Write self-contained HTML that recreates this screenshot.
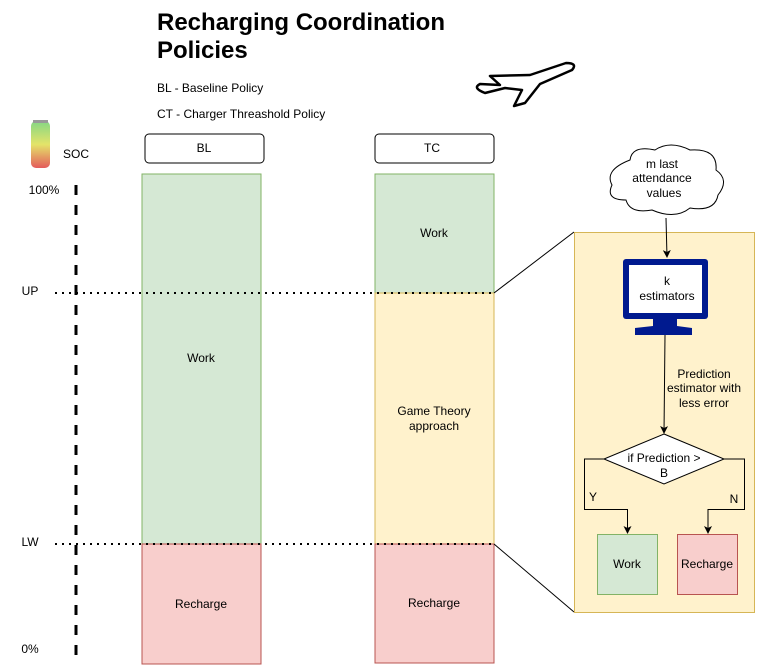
<!DOCTYPE html>
<html><head><style>body{margin:0;background:#fff}svg{display:block;font-family:"Liberation Sans",sans-serif}</style></head><body>
<svg width="764" height="665" xmlns="http://www.w3.org/2000/svg">
<defs>
<marker id="a" markerWidth="8" markerHeight="8" refX="7" refY="4" orient="auto" markerUnits="userSpaceOnUse"><path d="M0,0 L8,4 L0,8 L2,4 Z" fill="#000"/></marker>
<linearGradient id="bat" x1="0" y1="0" x2="0" y2="1"><stop offset="0" stop-color="#6c6"/><stop offset="0.5" stop-color="#dd4"/><stop offset="1" stop-color="#d33"/></linearGradient>
</defs>
<text x="157" y="30" font-size="24" font-weight="bold">Recharging Coordination</text>
<text x="157" y="58" font-size="24" font-weight="bold">Policies</text>
<text x="157" y="92" font-size="12">BL - Baseline Policy</text>
<text x="157" y="118" font-size="12">CT - Charger Threashold Policy</text>
<!-- airplane -->
<path d="M490,76 L530,75 L566,63 Q578,63 572,70 L540,84 L525,103 L514,106 L522,90 L505,88 L485,93 Q472,88 480,84 L500,85 Z" fill="#fff" stroke="#000" stroke-width="2.5" stroke-linejoin="round"/>
<!-- battery -->
<rect x="31" y="121" width="19" height="47" rx="5" fill="url(#bat)" opacity="0.8"/>
<rect x="33" y="120" width="15" height="3" fill="#999"/>
<text x="63" y="158" font-size="12">SOC</text>
<rect x="145" y="134" width="119" height="29" rx="4" fill="#fff" stroke="#000"/>
<text x="204" y="152" font-size="12" text-anchor="middle">BL</text>
<rect x="375" y="134" width="119" height="29" rx="4" fill="#fff" stroke="#000"/>
<text x="432" y="152" font-size="12" text-anchor="middle">TC</text>
<rect x="142" y="174" width="119" height="370" fill="#d5e8d4" stroke="#82b366"/>
<rect x="142" y="544" width="119" height="120" fill="#f8cecc" stroke="#b85450"/>
<text x="201" y="362" font-size="12" text-anchor="middle">Work</text>
<text x="201" y="608" font-size="12" text-anchor="middle">Recharge</text>
<rect x="375" y="174" width="119" height="119" fill="#d5e8d4" stroke="#82b366"/>
<rect x="375" y="293" width="119" height="251" fill="#fff2cc" stroke="#d6b656"/>
<rect x="375" y="544" width="119" height="119" fill="#f8cecc" stroke="#b85450"/>
<text x="434" y="237" font-size="12" text-anchor="middle">Work</text>
<text x="434" y="415" font-size="12" text-anchor="middle">Game Theory</text>
<text x="434" y="430" font-size="12" text-anchor="middle">approach</text>
<text x="434" y="607" font-size="12" text-anchor="middle">Recharge</text>
<line x1="76" y1="185" x2="76" y2="655" stroke="#000" stroke-width="3" stroke-dasharray="10,10"/>
<line x1="55" y1="293" x2="494" y2="293" stroke="#000" stroke-width="2" stroke-dasharray="2,5"/>
<line x1="55" y1="544" x2="494" y2="544" stroke="#000" stroke-width="2" stroke-dasharray="2,5"/>
<text x="44" y="194" font-size="12" text-anchor="middle">100%</text>
<text x="30" y="295" font-size="12" text-anchor="middle">UP</text>
<text x="30" y="546" font-size="12" text-anchor="middle">LW</text>
<text x="30" y="653" font-size="12" text-anchor="middle">0%</text>
<line x1="494" y1="293" x2="574" y2="232" stroke="#000"/>
<line x1="494" y1="544" x2="574" y2="612" stroke="#000"/>
<rect x="574.5" y="232.5" width="180" height="380" fill="#fff2cc" stroke="#d6b656"/>
<!-- cloud -->
<path d="M630,160 Q632,145 655,150 Q670,140 690,150 Q718,148 716,170 Q730,180 718,195 Q715,212 690,208 Q675,220 652,210 Q630,214 626,200 Q605,200 612,185 Q604,170 630,160 Z" fill="#fff" stroke="#000"/>
<text x="662" y="168" font-size="12" text-anchor="middle">m last</text>
<text x="662" y="182" font-size="12" text-anchor="middle">attendance</text>
<text x="664" y="197" font-size="12" text-anchor="middle">values</text>
<line x1="666" y1="218" x2="667" y2="257" stroke="#000" marker-end="url(#a)"/>
<!-- monitor -->
<rect x="623" y="259" width="85" height="60" rx="3" fill="#001a8f"/>
<rect x="629" y="265" width="73" height="48" fill="#fff"/>
<path d="M653,319 L677,319 L677,326 L692,328 L692,335 L635,335 L635,328 L653,326 Z" fill="#001a8f"/>
<text x="667" y="285" font-size="12" text-anchor="middle">k</text>
<text x="667" y="300" font-size="12" text-anchor="middle">estimators</text>
<line x1="665" y1="335" x2="664" y2="433" stroke="#000" marker-end="url(#a)"/>
<text x="704" y="378" font-size="12" text-anchor="middle">Prediction</text>
<text x="704" y="392" font-size="12" text-anchor="middle">estimator with</text>
<text x="704" y="407" font-size="12" text-anchor="middle">less error</text>
<path d="M664,434 L724,459 L664,484 L604,459 Z" fill="#fff" stroke="#000"/>
<text x="664" y="462" font-size="12" text-anchor="middle">if Prediction &gt;</text>
<text x="664" y="477" font-size="12" text-anchor="middle">B</text>
<path d="M604,459 H584.5 V509.5 H627.5 V533" fill="none" stroke="#000" marker-end="url(#a)"/>
<path d="M724,459 H744.5 V509.5 H708 V533" fill="none" stroke="#000" marker-end="url(#a)"/>
<text x="593" y="501" font-size="12" text-anchor="middle">Y</text>
<text x="734" y="503" font-size="12" text-anchor="middle">N</text>
<rect x="597.5" y="534.5" width="60" height="60" fill="#d5e8d4" stroke="#82b366"/>
<text x="627" y="568" font-size="12" text-anchor="middle">Work</text>
<rect x="677.5" y="534.5" width="60" height="60" fill="#f8cecc" stroke="#b85450"/>
<text x="707" y="568" font-size="12" text-anchor="middle">Recharge</text>
</svg>
</body></html>
